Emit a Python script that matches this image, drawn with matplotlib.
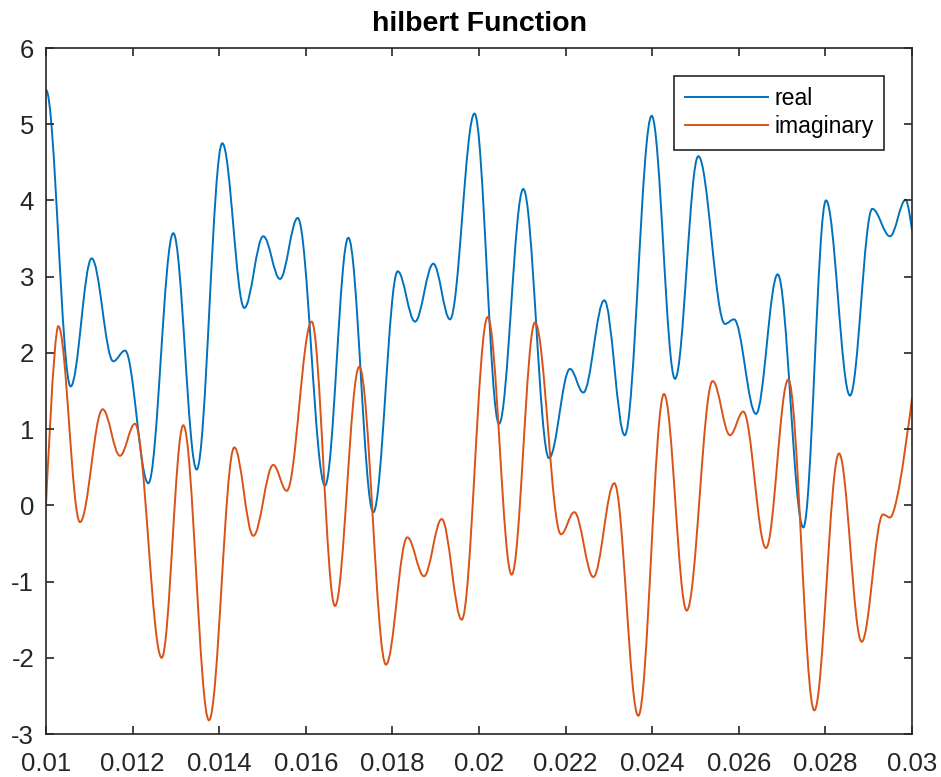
import matplotlib
matplotlib.use('Agg')
import matplotlib.pyplot as plt
from matplotlib.path import Path
from matplotlib.patches import PathPatch

# turning points: time (s) and value
real_t = [0.010000, 0.010570, 0.011055, 0.011554, 0.011825, 0.012363, 0.012940,
          0.013480, 0.014072, 0.014580, 0.015019, 0.015404, 0.015813, 0.016444,
          0.016982, 0.017559, 0.018123, 0.018522, 0.018945, 0.019330, 0.019896,
          0.020462, 0.021023, 0.021617, 0.022102, 0.022409, 0.022894, 0.023365,
          0.023988, 0.024527, 0.025065, 0.025681, 0.025889, 0.026397, 0.026898,
          0.027490, 0.028014, 0.028568, 0.029083, 0.029492, 0.029855, 0.030000]
real_v = [5.45, 1.56, 3.24, 1.89, 2.03, 0.29, 3.57,
          0.47, 4.75, 2.59, 3.53, 2.97, 3.77, 0.26,
          3.51, -0.09, 3.07, 2.41, 3.17, 2.44, 5.14,
          1.07, 4.15, 0.62, 1.79, 1.48, 2.69, 0.92,
          5.11, 1.66, 4.58, 2.38, 2.44, 1.20, 3.03,
          -0.29, 4.00, 1.44, 3.89, 3.53, 4.01, 3.61]

imag_t = [0.010000, 0.010284, 0.010785, 0.011309, 0.011709, 0.012055, 0.012672,
          0.013171, 0.013764, 0.014349, 0.014788, 0.015249, 0.015559, 0.016136,
          0.016674, 0.017236, 0.017852, 0.018344, 0.018730, 0.019139, 0.019601,
          0.020201, 0.020755, 0.021293, 0.021894, 0.022201, 0.022640, 0.023125,
          0.023679, 0.024273, 0.024797, 0.025397, 0.025797, 0.026104, 0.026628,
          0.027143, 0.027744, 0.028314, 0.028838, 0.029330, 0.029492, 0.030000]
imag_v = [0.00, 2.35, -0.22, 1.26, 0.65, 1.07, -2.00,
          1.05, -2.82, 0.76, -0.40, 0.53, 0.19, 2.41,
          -1.32, 1.82, -2.09, -0.42, -0.93, -0.18, -1.50,
          2.47, -0.91, 2.40, -0.38, -0.09, -0.94, 0.29,
          -2.76, 1.46, -1.38, 1.63, 0.92, 1.23, -0.56,
          1.65, -2.69, 0.68, -1.79, -0.12, -0.16, 1.41]

x_ticks = [0.010, 0.012, 0.014, 0.016, 0.018, 0.020, 0.022, 0.024, 0.026, 0.028, 0.030]
x_tick_labels = ['0.01', '0.012', '0.014', '0.016', '0.018', '0.02',
                 '0.022', '0.024', '0.026', '0.028', '0.03']
y_ticks = [-3, -2, -1, 0, 1, 2, 3, 4, 5, 6]

blue = (0.0, 0.447, 0.741)
orange = (0.850, 0.325, 0.098)
dark = (0.15, 0.15, 0.15)


def smooth_path(t, v, flat_start=False):
    # cubic pieces with flat tangents at every turning point
    verts = [(t[0], v[0])]
    codes = [Path.MOVETO]
    n = len(t)
    for i in range(n - 1):
        d = 0.36 * (t[i + 1] - t[i])
        d0 = d if (i > 0 or flat_start) else 0.0
        d1 = d if i < n - 2 else 0.0
        verts += [(t[i] + d0, v[i]), (t[i + 1] - d1, v[i + 1]), (t[i + 1], v[i + 1])]
        codes += [Path.CURVE4] * 3
    return Path(verts, codes)


plt.rcParams['font.family'] = ['Liberation Sans', 'DejaVu Sans']
plt.rcParams['axes.unicode_minus'] = False

fig = plt.figure(figsize=(9.41, 7.77), dpi=100)
ax = fig.add_axes([46 / 941, 1 - 734 / 777, 866 / 941, 686 / 777])

ax.add_patch(PathPatch(smooth_path(real_t, real_v, flat_start=True),
                       fill=False, edgecolor=blue, lw=1.4))
ax.add_patch(PathPatch(smooth_path(imag_t, imag_v),
                       fill=False, edgecolor=orange, lw=1.4))
ax.plot([], [], color=blue, lw=1.4, label='real')
ax.plot([], [], color=orange, lw=1.4, label='imaginary')

ax.set_xlim(0.01, 0.03)
ax.set_ylim(-3, 6)
ax.set_xticks(x_ticks)
ax.set_xticklabels(x_tick_labels)
ax.set_yticks(y_ticks)

for s in ax.spines.values():
    s.set_color(dark)
    s.set_linewidth(1.2)
ax.tick_params(direction='in', length=5.5, width=1.2, color=dark,
               labelcolor=dark, labelsize=18.5, top=True, right=True)
ax.tick_params(axis='x', pad=13)
ax.tick_params(axis='y', pad=8.5)

ax.set_title('hilbert Function', fontsize=20.5, fontweight='bold', pad=12)

leg = ax.legend(loc='upper right', fontsize=16.6, fancybox=False, framealpha=1,
                edgecolor=dark, handlelength=3.6, handletextpad=0.25,
                borderpad=0.48, labelspacing=0.25, borderaxespad=1.2)
leg.get_frame().set_linewidth(1.2)

plt.savefig('out.png', dpi=100)
